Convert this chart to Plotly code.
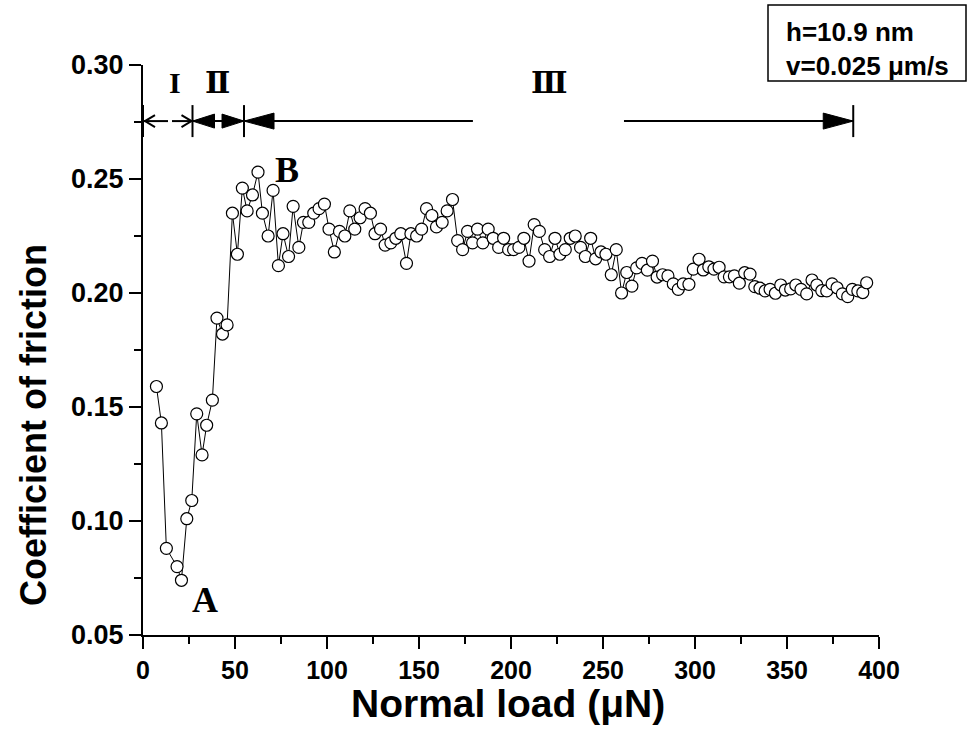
import plotly.graph_objects as go

# ---------------- data ----------------
load_uN = [7.3, 10.0, 12.7, 18.5, 20.9, 23.8, 26.5, 29.2, 32.1, 34.6, 37.7,
           40.2, 43.2, 45.7, 48.6, 51.3, 54.0, 56.6, 59.5, 62.5, 64.9, 68.0,
           70.7, 73.6, 76.1, 79.1, 81.6, 84.7, 87.2, 90.1, 92.8, 95.7, 98.6,
           101.1, 104.0, 106.8, 109.7, 112.4, 115.1, 118.0, 120.7, 123.6, 126.1,
           129.1, 131.6, 134.7, 137.4, 140.1, 143.2, 145.6, 148.7, 151.4, 154.1,
           157.0, 159.5, 162.6, 165.3, 168.2, 171.0, 173.7, 176.4, 179.1, 181.8,
           184.7, 187.6, 190.3, 193.3, 196.0, 198.7, 201.4, 204.3, 207.0, 209.8,
           212.6, 215.4, 218.3, 221.0, 223.9, 226.6, 229.5, 232.2, 234.9, 237.8,
           240.4, 243.3, 246.0, 248.9, 251.6, 254.5, 257.2, 260.1, 262.9, 265.7,
           268.3, 271.2, 274.1, 276.9, 279.4, 282.4, 285.3, 288.2, 290.9, 293.6,
           296.7, 299.1, 302.2, 304.5, 307.5, 310.3, 313.1, 315.8, 318.7, 321.4,
           324.1, 327.0, 329.9, 332.5, 335.3, 338.1, 340.8, 343.7, 346.6, 349.1,
           352.0, 354.8, 357.6, 360.7, 363.6, 366.2, 368.9, 371.6, 374.5, 377.2,
           380.1, 383.0, 385.5, 388.5, 391.2, 393.3]
friction = [0.159, 0.143, 0.088, 0.080, 0.074, 0.101, 0.109, 0.147, 0.129, 0.142, 0.153,
            0.189, 0.182, 0.186, 0.235, 0.217, 0.246, 0.236, 0.243, 0.253, 0.235, 0.225,
            0.245, 0.212, 0.226, 0.216, 0.238, 0.220, 0.231, 0.231, 0.235, 0.237, 0.239,
            0.228, 0.218, 0.227, 0.225, 0.236, 0.228, 0.233, 0.237, 0.235, 0.226,
            0.228, 0.221, 0.222, 0.224, 0.226, 0.213, 0.226, 0.225, 0.228, 0.237,
            0.234, 0.229, 0.231, 0.236, 0.241, 0.223, 0.219, 0.227, 0.222, 0.228,
            0.222, 0.228, 0.224, 0.220, 0.224, 0.219, 0.219, 0.220, 0.224, 0.214,
            0.230, 0.227, 0.219, 0.216, 0.224, 0.217, 0.219, 0.224, 0.225, 0.220,
            0.216, 0.224, 0.215, 0.218, 0.217, 0.208, 0.219, 0.200, 0.209, 0.203,
            0.211, 0.213, 0.210, 0.214, 0.207, 0.208, 0.2075, 0.204, 0.2016, 0.204,
            0.2038, 0.2105, 0.2148, 0.2101, 0.2115, 0.2105, 0.2113, 0.2071, 0.2071, 0.2075,
            0.2043, 0.2089, 0.2083, 0.2028, 0.2021, 0.2009, 0.2016, 0.1999, 0.2035, 0.2013,
            0.2018, 0.2035, 0.2016, 0.1996, 0.2057, 0.2035, 0.2010, 0.2009, 0.2040, 0.2023,
            0.1996, 0.1984, 0.2016, 0.2009, 0.2002, 0.2045]

x_tick_vals = [0, 50, 100, 150, 200, 250, 300, 350, 400]
y_tick_vals = [0.05, 0.10, 0.15, 0.20, 0.25, 0.30]

region_edges = [0.0, 26.9, 54.9, 386.0]
region_names = ["I", "Ⅱ", "Ⅲ"]
region_label_x = [17.3, 40.7, 221.0]
region3_gap = [179.3, 261.4]
arrow_level = 0.2754
region_label_level = 0.2925

point_names = ["A", "B"]
point_name_x = [33.5, 78.0]
point_name_y = [0.0654, 0.254]

info_lines = ["h=10.9 nm", "v=0.025 μm/s"]
x_title = "Normal load (μN)"
y_title = "Coefficient of friction"

# ---------------- layout geometry ----------------
W, H = 973, 742
ML, MR, MT, MB = 143, 94, 65, 107
X_RANGE = [0, 400]
Y_RANGE = [0.05, 0.30]
PX_X = (X_RANGE[1] - X_RANGE[0]) / (W - ML - MR)   # data units per pixel
PX_Y = (Y_RANGE[1] - Y_RANGE[0]) / (H - MT - MB)

SANS = "Arial, 'Liberation Sans', Helvetica, sans-serif"
SERIF = "'Times New Roman', 'Liberation Serif', 'DejaVu Serif', serif"

fig = go.Figure()
fig.add_trace(go.Scatter(
    x=load_uN, y=friction, mode="lines+markers",
    line=dict(color="black", width=1),
    marker=dict(symbol="circle", size=12, color="white",
                line=dict(color="black", width=1.2)),
    showlegend=False, cliponaxis=False))

shapes = []
LW = 2


def seg(x0, x1, y):
    shapes.append(dict(type="line", xref="x", yref="y", x0=x0, x1=x1, y0=y, y1=y,
                       line=dict(color="black", width=LW)))


def bar(x, y):
    shapes.append(dict(type="line", xref="x", yref="y", x0=x, x1=x,
                       y0=y - 16 * PX_Y, y1=y + 16 * PX_Y,
                       line=dict(color="black", width=LW)))


def head(tip, y, direction, length, half, filled=True):
    # direction: -1 points left, +1 points right
    bx = tip - direction * length * PX_X
    p = f"M {bx},{y + half * PX_Y} L {tip},{y} L {bx},{y - half * PX_Y}"
    if filled:
        p += " Z"
    shapes.append(dict(type="path", xref="x", yref="y", path=p,
                       line=dict(color="black", width=LW if not filled else 1),
                       fillcolor="black" if filled else "rgba(0,0,0,0)"))


y0 = arrow_level
for e in region_edges:
    bar(e, y0)

e0, e1, e2, e3 = region_edges
# region I : open arrows with a gap
seg(e0 + 1 * PX_X, e0 + 25 * PX_X, y0)
head(e0 + 2 * PX_X, y0, -1, 10, 6, filled=False)
seg(e0 + 29 * PX_X, e1, y0)
head(e1 - 1 * PX_X, y0, 1, 10, 6, filled=False)

# region II : filled double arrow
seg(e1, e2, y0)
head(e1, y0, -1, 22, 7)
head(e2, y0, 1, 22, 7)

# region III : filled arrows with a gap
seg(e2, region3_gap[0], y0)
seg(region3_gap[1], e3, y0)
head(e2, y0, -1, 30, 8)
head(e3, y0, 1, 30, 8)


def pxx(px):
    return (px - ML) / (W - ML - MR)


def pxy(py):
    return (H - MB - py) / (H - MT - MB)


shapes.append(dict(type="rect", xref="paper", yref="paper",
                   x0=pxx(768), x1=pxx(966), y0=pxy(81), y1=pxy(5),
                   line=dict(color="black", width=1.5), fillcolor="white"))

annotations = []
for name, xv in zip(region_names, region_label_x):
    annotations.append(dict(x=xv, y=region_label_level, xref="x", yref="y",
                            text=f"<b>{name}</b>", showarrow=False,
                            font=dict(family=SERIF, size=30, color="black")))
for name, xv, yv in zip(point_names, point_name_x, point_name_y):
    annotations.append(dict(x=xv, y=yv, xref="x", yref="y",
                            text=f"<b>{name}</b>", showarrow=False,
                            font=dict(family=SERIF, size=36, color="black")))
for i, line in enumerate(info_lines):
    annotations.append(dict(x=pxx(784), y=pxy(32 + 34 * i), xref="paper", yref="paper",
                            xanchor="left", yanchor="middle",
                            text=f"<b>{line}</b>", showarrow=False,
                            font=dict(family=SANS, size=26, color="black")))
# axis titles
annotations.append(dict(x=pxx(508), y=pxy(703), xref="paper", yref="paper",
                        xanchor="center", yanchor="middle", showarrow=False,
                        text=f"<b>{x_title}</b>",
                        font=dict(family=SANS, size=39, color="black")))
annotations.append(dict(x=pxx(33), y=pxy(425), xref="paper", yref="paper",
                        xanchor="center", yanchor="middle", showarrow=False,
                        textangle=-90, text=f"<b>{y_title}</b>",
                        font=dict(family=SANS, size=36, color="black")))

axis_common = dict(showgrid=False, zeroline=False, showline=True, linecolor="black",
                   linewidth=2, ticks="outside", ticklen=12, tickwidth=2,
                   tickcolor="black", mirror=False)

fig.update_layout(
    width=W, height=H,
    margin=dict(l=ML, r=MR, t=MT, b=MB, autoexpand=False),
    paper_bgcolor="white", plot_bgcolor="white",
    shapes=shapes, annotations=annotations,
    xaxis=dict(range=X_RANGE, tickvals=x_tick_vals,
               tickfont=dict(family=SANS, size=25, color="black", weight="bold"),
               minor=dict(dtick=25, tick0=0, ticks="outside", ticklen=7, tickwidth=2,
                          tickcolor="black"),
               **axis_common),
    yaxis=dict(range=Y_RANGE, tickvals=y_tick_vals, tickformat=".2f",
               tickfont=dict(family=SANS, size=27, color="black", weight="bold"),
               minor=dict(dtick=0.025, tick0=0.05, ticks="outside", ticklen=7, tickwidth=2,
                          tickcolor="black"),
               **axis_common),
)

fig.write_html("out.html")
